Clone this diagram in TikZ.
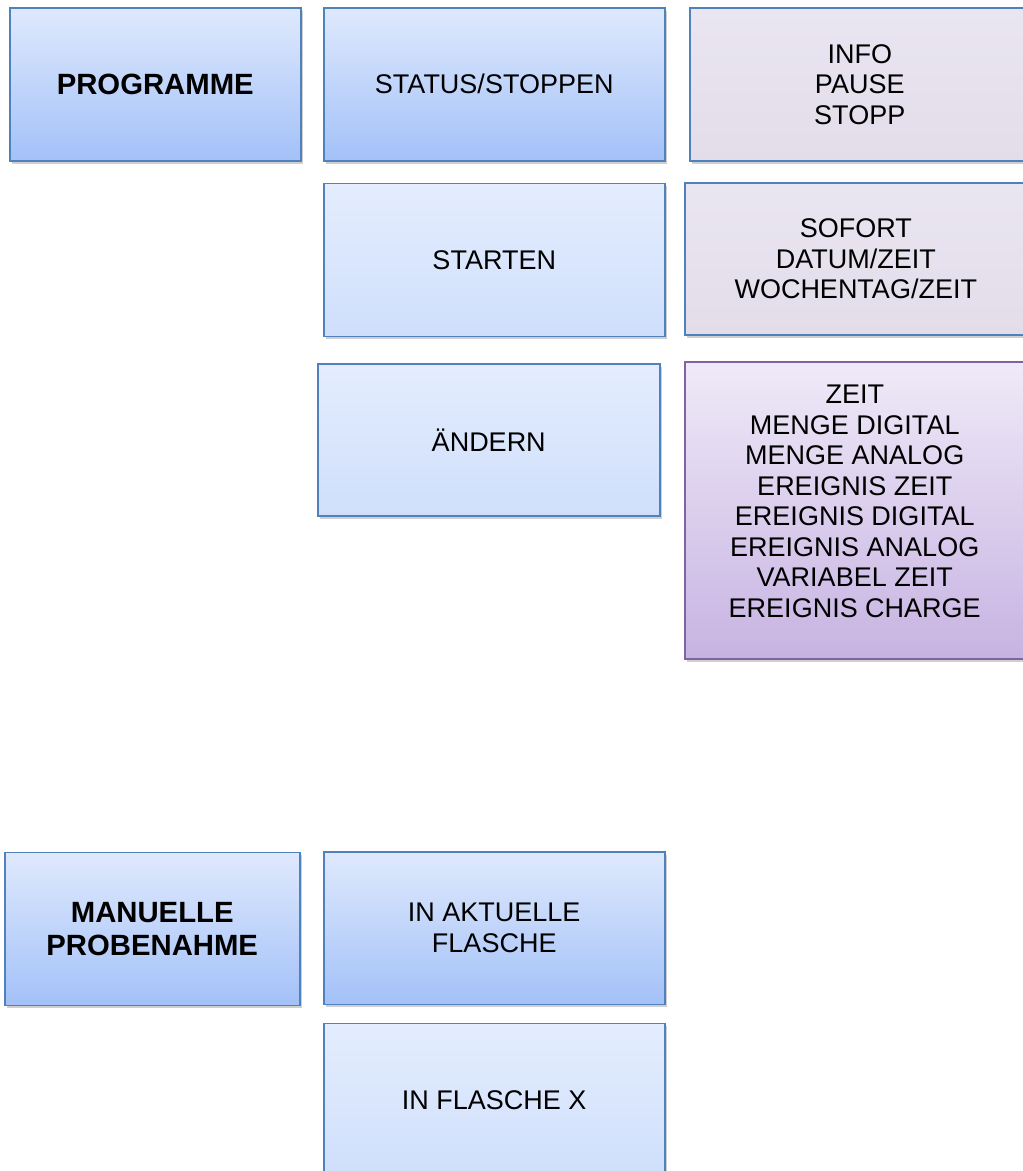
\documentclass[tikz,border=0pt]{standalone}
\usepackage{fontspec}
\setmainfont{Liberation Sans}
\usetikzlibrary{shadows,calc}
\definecolor{blueline}{HTML}{4F81BD}
\definecolor{purpleline}{HTML}{8064A2}
\definecolor{dktop}{HTML}{DFE9FD}
\definecolor{dkbot}{HTML}{A3C1F8}
\definecolor{lttop}{HTML}{E4EDFE}
\definecolor{ltmid}{HTML}{DCE7FC}
\definecolor{ltbot}{HTML}{CFDFFB}
\definecolor{grtop}{HTML}{E9E5F1}
\definecolor{grbot}{HTML}{E3DDEA}
\definecolor{pptop}{HTML}{EFEAF8}
\definecolor{ppbot}{HTML}{C7B3E2}
\begin{document}
\begin{tikzpicture}[x=1pt,y=-1pt,
  basebox/.style={rectangle, anchor=north west, align=center, inner sep=0pt,
    line width=1.5pt, font=\fontsize{27}{30.5}\selectfont,
    drop shadow={shadow xshift=2pt, shadow yshift=-3pt, opacity=0.38}},
  darkbox/.style={basebox, draw=blueline, top color=dktop, bottom color=dkbot},
  lightbox/.style={basebox, draw=blueline, top color=lttop, middle color=ltmid, bottom color=ltbot},
  graybox/.style={basebox, draw=blueline, top color=grtop, bottom color=grbot},
  purplebox/.style={basebox, draw=purpleline, top color=pptop, bottom color=ppbot},
  boldtext/.style={font=\fontsize{29.3}{33}\selectfont\bfseries},
  plaintext/.style={align=center, inner sep=0pt, font=\fontsize{27}{30.5}\selectfont}
]
\useasboundingbox (0,0) rectangle (1023,1171);
\clip (0,0) rectangle (1023,1171);

% Programme row
\node[darkbox, boldtext, minimum width=291pt, minimum height=153pt] (prog) at (9,7) {PROGRAMME};
\node[darkbox, minimum width=341pt, minimum height=153pt] (status) at (323,7) {STATUS/STOPPEN};
\node[graybox, minimum width=340pt, minimum height=153pt] (info) at (689,7) {INFO\\PAUSE\\STOPP};

\node[lightbox, minimum width=341pt, minimum height=153pt] (start) at (323,182.5) {STARTEN};
\node[graybox, minimum width=342pt, minimum height=152pt] (sofort) at (684,182) {SOFORT\\DATUM/ZEIT\\WOCHENTAG/ZEIT};

\node[lightbox, minimum width=342pt, minimum height=152pt] (aendern) at (317,363) {ÄNDERN};
\node[purplebox, minimum width=340pt, minimum height=297pt] (modes) at (684,361) {};
\node[plaintext] (modestext) at ($(modes.center)+(0,-9)$) {ZEIT\\MENGE DIGITAL\\MENGE ANALOG\\EREIGNIS ZEIT\\EREIGNIS DIGITAL\\EREIGNIS ANALOG\\VARIABEL ZEIT\\EREIGNIS CHARGE};

% Manual sampling row
\node[darkbox, boldtext, minimum width=295pt, minimum height=153pt] (manuell) at (4,851.5) {MANUELLE\\PROBENAHME};
\node[darkbox, minimum width=341pt, minimum height=152.5pt] (aktuell) at (323,851) {IN AKTUELLE\\FLASCHE};
\node[lightbox, minimum width=341pt, minimum height=153pt] (flaschex) at (323,1022.7) {IN FLASCHE X};
\end{tikzpicture}
\end{document}
